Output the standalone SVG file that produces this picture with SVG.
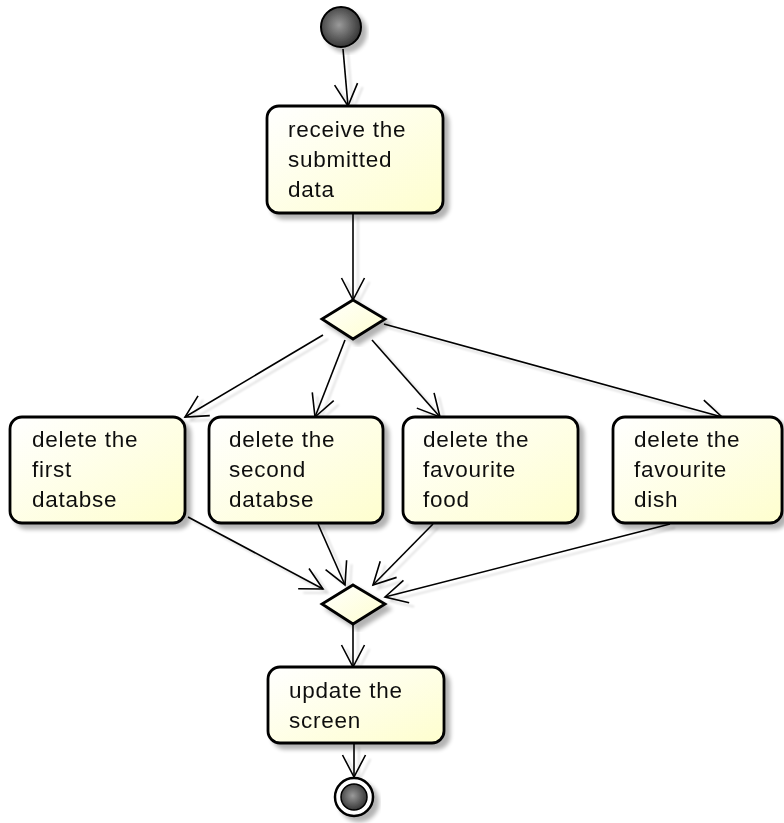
<svg xmlns="http://www.w3.org/2000/svg" width="784" height="823" viewBox="0 0 784 823">
<style>
.box{fill:url(#boxg);stroke:#000;stroke-width:2.8}
.dia{fill:url(#boxg);stroke:#000;stroke-width:2.8}
.lbl{font-family:"Liberation Sans",Arial,sans-serif;font-size:22.5px;letter-spacing:0.75px;fill:#111}
.edge{fill:none;stroke:#000;stroke-width:1.6;marker-end:url(#arr)}
</style>
<defs>
<linearGradient id="boxg" x1="0" y1="0" x2="1" y2="1">
<stop offset="0" stop-color="#FFFFFF"/>
<stop offset="1" stop-color="#FEFECE"/>
</linearGradient>
<radialGradient id="dot" cx="0.45" cy="0.45" r="0.6">
<stop offset="0" stop-color="#9a9a9a"/>
<stop offset="1" stop-color="#2e2e2e"/>
</radialGradient>
<filter id="sh" x="-20%" y="-20%" width="140%" height="140%">
<feGaussianBlur in="SourceAlpha" stdDeviation="2"/>
<feOffset dx="5" dy="5"/>
<feComponentTransfer><feFuncA type="linear" slope="0.3"/></feComponentTransfer>
<feMerge><feMergeNode/><feMergeNode in="SourceGraphic"/></feMerge>
</filter>
<filter id="lsh" x="-10%" y="-10%" width="120%" height="120%">
<feGaussianBlur in="SourceAlpha" stdDeviation="0.8"/>
<feOffset dx="5" dy="4"/>
<feComponentTransfer><feFuncA type="linear" slope="0.15"/></feComponentTransfer>
<feMerge><feMergeNode/><feMergeNode in="SourceGraphic"/></feMerge>
</filter>
<marker id="arr" markerUnits="userSpaceOnUse" markerWidth="40" markerHeight="40" refX="0" refY="0" viewBox="-30 -20 40 40" orient="auto" overflow="visible">
<path d="M-22,-11.5 L0,0 L-22,11.5" fill="none" stroke="#000" stroke-width="1.6"/>
</marker>
</defs>

<g id="connectors" filter="url(#lsh)">
<path class="edge" d="M343,49 L348,106"/>
<path class="edge" d="M353,213 L353,300"/>
<path class="edge" d="M323,335 L185,417"/>
<path class="edge" d="M345,340 L315,417"/>
<path class="edge" d="M372,340 L440,417"/>
<path class="edge" d="M384,324 L722,417"/>
<path class="edge" d="M188,517 L323,589"/>
<path class="edge" d="M318,524 L345,585"/>
<path class="edge" d="M433,524 L373,585"/>
<path class="edge" d="M670,524 L385,597"/>
<path class="edge" d="M353,624 L353,667"/>
<path class="edge" d="M354,743 L354,777"/>
</g>

<g id="start" filter="url(#sh)">
<circle cx="341" cy="27" r="20" fill="url(#dot)" stroke="#000" stroke-width="2"/>
</g>

<g id="receive" filter="url(#sh)">
<rect class="box" x="267" y="106" width="176" height="107" rx="12"/>
<text class="lbl" x="288" y="137">receive the</text>
<text class="lbl" x="288" y="167">submitted</text>
<text class="lbl" x="288" y="197">data</text>
</g>

<g id="decision" filter="url(#sh)">
<polygon class="dia" points="353,300 385,319 353,339 322,319"/>
</g>

<g id="del1" filter="url(#sh)">
<rect class="box" x="10" y="417" width="175" height="106" rx="12"/>
<text class="lbl" x="32" y="447">delete the</text>
<text class="lbl" x="32" y="477">first</text>
<text class="lbl" x="32" y="507">databse</text>
</g>

<g id="del2" filter="url(#sh)">
<rect class="box" x="209" y="417" width="174" height="106" rx="12"/>
<text class="lbl" x="229" y="447">delete the</text>
<text class="lbl" x="229" y="477">second</text>
<text class="lbl" x="229" y="507">databse</text>
</g>

<g id="del3" filter="url(#sh)">
<rect class="box" x="403" y="417" width="175" height="106" rx="12"/>
<text class="lbl" x="423" y="447">delete the</text>
<text class="lbl" x="423" y="477">favourite</text>
<text class="lbl" x="423" y="507">food</text>
</g>

<g id="del4" filter="url(#sh)">
<rect class="box" x="613" y="417" width="169" height="106" rx="12"/>
<text class="lbl" x="634" y="447">delete the</text>
<text class="lbl" x="634" y="477">favourite</text>
<text class="lbl" x="634" y="507">dish</text>
</g>

<g id="merge" filter="url(#sh)">
<polygon class="dia" points="353,585 385,604 353,624 322,604"/>
</g>

<g id="update" filter="url(#sh)">
<rect class="box" x="268" y="667" width="176" height="76" rx="12"/>
<text class="lbl" x="289" y="698">update the</text>
<text class="lbl" x="289" y="728">screen</text>
</g>

<g id="end" filter="url(#sh)">
<circle cx="354" cy="797" r="19" fill="#fff" stroke="#000" stroke-width="2.5"/>
<circle cx="354" cy="797" r="13" fill="url(#dot)" stroke="#000" stroke-width="1.5"/>
</g>
</svg>
